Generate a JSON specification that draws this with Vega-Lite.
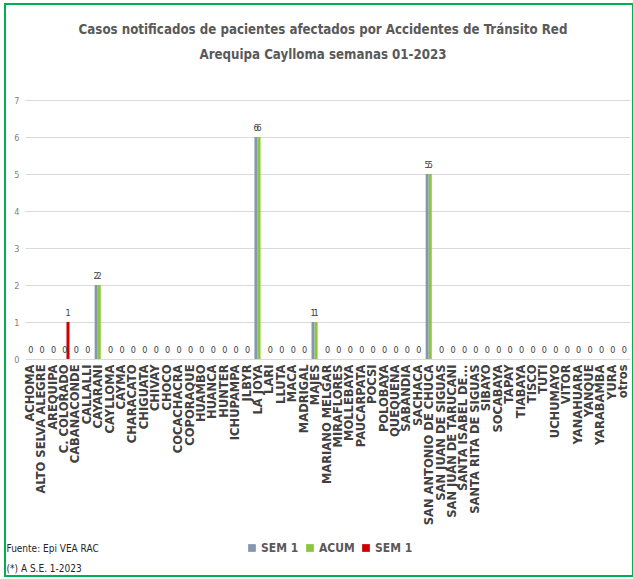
{
  "$schema": "https://vega.github.io/schema/vega-lite/v6.json",
  "width": 628,
  "height": 572,
  "autosize": {"type": "none"},
  "padding": {"left": 5, "top": 4, "right": 0, "bottom": 3},
  "background": "white",
  "title": {
    "text": ["Casos notificados  de pacientes afectados por Accidentes de Tránsito Red", "Arequipa Caylloma  semanas 01-2023"],
    "anchor": "middle",
    "frame": "group",
    "offset": -58,
    "dx": 4,
    "font": "DejaVu Sans Condensed",
    "fontSize": 13.2,
    "fontWeight": "bold",
    "color": "#595959",
    "lineHeight": 25
  },
  "config": {
    "view": {"stroke": "#00B050", "strokeWidth": 2},
    "axis": {"domain": false, "ticks": false}
  },
  "data": {
    "values": [
      {"d": "ACHOMA", "s": "SEM 1", "v": 0}, {"d": "ACHOMA", "s": "ACUM", "v": 0}, {"d": "ACHOMA", "s": "SEM 1*", "v": 0},
      {"d": "ALTO SELVA ALEGRE", "s": "SEM 1", "v": 0}, {"d": "ALTO SELVA ALEGRE", "s": "ACUM", "v": 0}, {"d": "ALTO SELVA ALEGRE", "s": "SEM 1*", "v": 0},
      {"d": "AREQUIPA", "s": "SEM 1", "v": 0}, {"d": "AREQUIPA", "s": "ACUM", "v": 0}, {"d": "AREQUIPA", "s": "SEM 1*", "v": 0},
      {"d": "C. COLORADO", "s": "SEM 1", "v": 0}, {"d": "C. COLORADO", "s": "ACUM", "v": 0}, {"d": "C. COLORADO", "s": "SEM 1*", "v": 1},
      {"d": "CABANACONDE", "s": "SEM 1", "v": 0}, {"d": "CABANACONDE", "s": "ACUM", "v": 0}, {"d": "CABANACONDE", "s": "SEM 1*", "v": 0},
      {"d": "CALLALLI", "s": "SEM 1", "v": 0}, {"d": "CALLALLI", "s": "ACUM", "v": 0}, {"d": "CALLALLI", "s": "SEM 1*", "v": 0},
      {"d": "CAYARANI", "s": "SEM 1", "v": 2}, {"d": "CAYARANI", "s": "ACUM", "v": 2}, {"d": "CAYARANI", "s": "SEM 1*", "v": 0},
      {"d": "CAYLLOMA", "s": "SEM 1", "v": 0}, {"d": "CAYLLOMA", "s": "ACUM", "v": 0}, {"d": "CAYLLOMA", "s": "SEM 1*", "v": 0},
      {"d": "CAYMA", "s": "SEM 1", "v": 0}, {"d": "CAYMA", "s": "ACUM", "v": 0}, {"d": "CAYMA", "s": "SEM 1*", "v": 0},
      {"d": "CHARACATO", "s": "SEM 1", "v": 0}, {"d": "CHARACATO", "s": "ACUM", "v": 0}, {"d": "CHARACATO", "s": "SEM 1*", "v": 0},
      {"d": "CHIGUATA", "s": "SEM 1", "v": 0}, {"d": "CHIGUATA", "s": "ACUM", "v": 0}, {"d": "CHIGUATA", "s": "SEM 1*", "v": 0},
      {"d": "CHIVAY", "s": "SEM 1", "v": 0}, {"d": "CHIVAY", "s": "ACUM", "v": 0}, {"d": "CHIVAY", "s": "SEM 1*", "v": 0},
      {"d": "CHOCO", "s": "SEM 1", "v": 0}, {"d": "CHOCO", "s": "ACUM", "v": 0}, {"d": "CHOCO", "s": "SEM 1*", "v": 0},
      {"d": "COCACHACRA", "s": "SEM 1", "v": 0}, {"d": "COCACHACRA", "s": "ACUM", "v": 0}, {"d": "COCACHACRA", "s": "SEM 1*", "v": 0},
      {"d": "COPORAQUE", "s": "SEM 1", "v": 0}, {"d": "COPORAQUE", "s": "ACUM", "v": 0}, {"d": "COPORAQUE", "s": "SEM 1*", "v": 0},
      {"d": "HUAMBO", "s": "SEM 1", "v": 0}, {"d": "HUAMBO", "s": "ACUM", "v": 0}, {"d": "HUAMBO", "s": "SEM 1*", "v": 0},
      {"d": "HUANCA", "s": "SEM 1", "v": 0}, {"d": "HUANCA", "s": "ACUM", "v": 0}, {"d": "HUANCA", "s": "SEM 1*", "v": 0},
      {"d": "HUNTER", "s": "SEM 1", "v": 0}, {"d": "HUNTER", "s": "ACUM", "v": 0}, {"d": "HUNTER", "s": "SEM 1*", "v": 0},
      {"d": "ICHUPAMPA", "s": "SEM 1", "v": 0}, {"d": "ICHUPAMPA", "s": "ACUM", "v": 0}, {"d": "ICHUPAMPA", "s": "SEM 1*", "v": 0},
      {"d": "JLBYR", "s": "SEM 1", "v": 0}, {"d": "JLBYR", "s": "ACUM", "v": 0}, {"d": "JLBYR", "s": "SEM 1*", "v": 0},
      {"d": "LA JOYA", "s": "SEM 1", "v": 6}, {"d": "LA JOYA", "s": "ACUM", "v": 6}, {"d": "LA JOYA", "s": "SEM 1*", "v": 0},
      {"d": "LARI", "s": "SEM 1", "v": 0}, {"d": "LARI", "s": "ACUM", "v": 0}, {"d": "LARI", "s": "SEM 1*", "v": 0},
      {"d": "LLUTA", "s": "SEM 1", "v": 0}, {"d": "LLUTA", "s": "ACUM", "v": 0}, {"d": "LLUTA", "s": "SEM 1*", "v": 0},
      {"d": "MACA", "s": "SEM 1", "v": 0}, {"d": "MACA", "s": "ACUM", "v": 0}, {"d": "MACA", "s": "SEM 1*", "v": 0},
      {"d": "MADRIGAL", "s": "SEM 1", "v": 0}, {"d": "MADRIGAL", "s": "ACUM", "v": 0}, {"d": "MADRIGAL", "s": "SEM 1*", "v": 0},
      {"d": "MAJES", "s": "SEM 1", "v": 1}, {"d": "MAJES", "s": "ACUM", "v": 1}, {"d": "MAJES", "s": "SEM 1*", "v": 0},
      {"d": "MARIANO MELGAR", "s": "SEM 1", "v": 0}, {"d": "MARIANO MELGAR", "s": "ACUM", "v": 0}, {"d": "MARIANO MELGAR", "s": "SEM 1*", "v": 0},
      {"d": "MIRAFLORES", "s": "SEM 1", "v": 0}, {"d": "MIRAFLORES", "s": "ACUM", "v": 0}, {"d": "MIRAFLORES", "s": "SEM 1*", "v": 0},
      {"d": "MOLLEBAYA", "s": "SEM 1", "v": 0}, {"d": "MOLLEBAYA", "s": "ACUM", "v": 0}, {"d": "MOLLEBAYA", "s": "SEM 1*", "v": 0},
      {"d": "PAUCARPATA", "s": "SEM 1", "v": 0}, {"d": "PAUCARPATA", "s": "ACUM", "v": 0}, {"d": "PAUCARPATA", "s": "SEM 1*", "v": 0},
      {"d": "POCSI", "s": "SEM 1", "v": 0}, {"d": "POCSI", "s": "ACUM", "v": 0}, {"d": "POCSI", "s": "SEM 1*", "v": 0},
      {"d": "POLOBAYA", "s": "SEM 1", "v": 0}, {"d": "POLOBAYA", "s": "ACUM", "v": 0}, {"d": "POLOBAYA", "s": "SEM 1*", "v": 0},
      {"d": "QUEQUEÑA", "s": "SEM 1", "v": 0}, {"d": "QUEQUEÑA", "s": "ACUM", "v": 0}, {"d": "QUEQUEÑA", "s": "SEM 1*", "v": 0},
      {"d": "SABANDIA", "s": "SEM 1", "v": 0}, {"d": "SABANDIA", "s": "ACUM", "v": 0}, {"d": "SABANDIA", "s": "SEM 1*", "v": 0},
      {"d": "SACHACA", "s": "SEM 1", "v": 0}, {"d": "SACHACA", "s": "ACUM", "v": 0}, {"d": "SACHACA", "s": "SEM 1*", "v": 0},
      {"d": "SAN ANTONIO DE CHUCA", "s": "SEM 1", "v": 5}, {"d": "SAN ANTONIO DE CHUCA", "s": "ACUM", "v": 5}, {"d": "SAN ANTONIO DE CHUCA", "s": "SEM 1*", "v": 0},
      {"d": "SAN JUAN DE SIGUAS", "s": "SEM 1", "v": 0}, {"d": "SAN JUAN DE SIGUAS", "s": "ACUM", "v": 0}, {"d": "SAN JUAN DE SIGUAS", "s": "SEM 1*", "v": 0},
      {"d": "SAN JUAN DE TARUCANI", "s": "SEM 1", "v": 0}, {"d": "SAN JUAN DE TARUCANI", "s": "ACUM", "v": 0}, {"d": "SAN JUAN DE TARUCANI", "s": "SEM 1*", "v": 0},
      {"d": "SANTA ISABEL DE...", "s": "SEM 1", "v": 0}, {"d": "SANTA ISABEL DE...", "s": "ACUM", "v": 0}, {"d": "SANTA ISABEL DE...", "s": "SEM 1*", "v": 0},
      {"d": "SANTA RITA DE SIGUAS", "s": "SEM 1", "v": 0}, {"d": "SANTA RITA DE SIGUAS", "s": "ACUM", "v": 0}, {"d": "SANTA RITA DE SIGUAS", "s": "SEM 1*", "v": 0},
      {"d": "SIBAYO", "s": "SEM 1", "v": 0}, {"d": "SIBAYO", "s": "ACUM", "v": 0}, {"d": "SIBAYO", "s": "SEM 1*", "v": 0},
      {"d": "SOCABAYA", "s": "SEM 1", "v": 0}, {"d": "SOCABAYA", "s": "ACUM", "v": 0}, {"d": "SOCABAYA", "s": "SEM 1*", "v": 0},
      {"d": "TAPAY", "s": "SEM 1", "v": 0}, {"d": "TAPAY", "s": "ACUM", "v": 0}, {"d": "TAPAY", "s": "SEM 1*", "v": 0},
      {"d": "TIABAYA", "s": "SEM 1", "v": 0}, {"d": "TIABAYA", "s": "ACUM", "v": 0}, {"d": "TIABAYA", "s": "SEM 1*", "v": 0},
      {"d": "TISCO", "s": "SEM 1", "v": 0}, {"d": "TISCO", "s": "ACUM", "v": 0}, {"d": "TISCO", "s": "SEM 1*", "v": 0},
      {"d": "TUTI", "s": "SEM 1", "v": 0}, {"d": "TUTI", "s": "ACUM", "v": 0}, {"d": "TUTI", "s": "SEM 1*", "v": 0},
      {"d": "UCHUMAYO", "s": "SEM 1", "v": 0}, {"d": "UCHUMAYO", "s": "ACUM", "v": 0}, {"d": "UCHUMAYO", "s": "SEM 1*", "v": 0},
      {"d": "VITOR", "s": "SEM 1", "v": 0}, {"d": "VITOR", "s": "ACUM", "v": 0}, {"d": "VITOR", "s": "SEM 1*", "v": 0},
      {"d": "YANAHUARA", "s": "SEM 1", "v": 0}, {"d": "YANAHUARA", "s": "ACUM", "v": 0}, {"d": "YANAHUARA", "s": "SEM 1*", "v": 0},
      {"d": "YANQUE", "s": "SEM 1", "v": 0}, {"d": "YANQUE", "s": "ACUM", "v": 0}, {"d": "YANQUE", "s": "SEM 1*", "v": 0},
      {"d": "YARABAMBA", "s": "SEM 1", "v": 0}, {"d": "YARABAMBA", "s": "ACUM", "v": 0}, {"d": "YARABAMBA", "s": "SEM 1*", "v": 0},
      {"d": "YURA", "s": "SEM 1", "v": 0}, {"d": "YURA", "s": "ACUM", "v": 0}, {"d": "YURA", "s": "SEM 1*", "v": 0},
      {"d": "otros", "s": "SEM 1", "v": 0}, {"d": "otros", "s": "ACUM", "v": 0}, {"d": "otros", "s": "SEM 1*", "v": 0}
    ]
  },
  "encoding": {
    "x": {
      "field": "d", "type": "nominal", "sort": null,
      "scale": {"range": [20, 625], "paddingInner": 0.2, "paddingOuter": 0.1},
      "axis": {
        "orient": "bottom", "offset": -217,
        "labelAngle": -90, "labelFont": "DejaVu Sans", "labelFontWeight": "bold", "labelFontSize": 11.5,
        "labelColor": "#404040", "labelPadding": 5, "labelLimit": 260,
        "title": ["Fuente: Epi VEA RAC", "(*) A S.E. 1-2023"],
        "titleX": 1, "titleY": 184, "titleAlign": "left", "titleAngle": 0, "titleBaseline": "top",
        "titleFont": "DejaVu Sans Condensed", "titleFontSize": 10,
        "titleFontWeight": "normal", "titleColor": "#262626", "titleLineHeight": 20
      }
    },
    "xOffset": {"field": "s", "type": "nominal", "sort": ["SEM 1", "ACUM", "SEM 1*"]},
    "y": {
      "field": "v", "type": "quantitative",
      "scale": {"domain": [0, 7], "range": [355, 96], "nice": false},
      "axis": {
        "orient": "left", "offset": -20, "values": [0, 1, 2, 3, 4, 5, 6, 7], "title": null,
        "labelFont": "DejaVu Sans Condensed", "labelFontSize": 9,
        "labelColor": "#7F7F7F", "labelPadding": 6,
        "grid": true, "gridColor": "#D9D9D9", "gridWidth": 1
      }
    }
  },
  "layer": [
    {
      "mark": {"type": "bar"},
      "encoding": {
        "color": {
          "field": "s", "type": "nominal",
          "scale": {"domain": ["SEM 1", "ACUM", "SEM 1*"], "range": ["#8497B0", "#8CC63F", "#D00000"]},
          "legend": {
            "orient": "none", "legendX": 241, "legendY": 538, "direction": "horizontal", "columns": 3,
            "title": null, "symbolType": "square", "symbolSize": 60, "symbolStrokeWidth": 0,
            "labelExpr": "replace(datum.label, '*', '')",
            "labelFont": "DejaVu Sans Condensed", "labelFontSize": 12,
            "labelFontWeight": "bold", "labelColor": "#595959", "columnPadding": 5, "labelOffset": 3
          }
        }
      }
    },
    {
      "transform": [{"filter": "datum.s == 'ACUM' || datum.v > 0"}],
      "mark": {
        "type": "text", "baseline": "bottom", "dy": -4,
        "font": "DejaVu Sans Condensed", "fontSize": 9, "color": "#404040"
      },
      "encoding": {"text": {"field": "v", "type": "quantitative"}}
    }
  ]
}
